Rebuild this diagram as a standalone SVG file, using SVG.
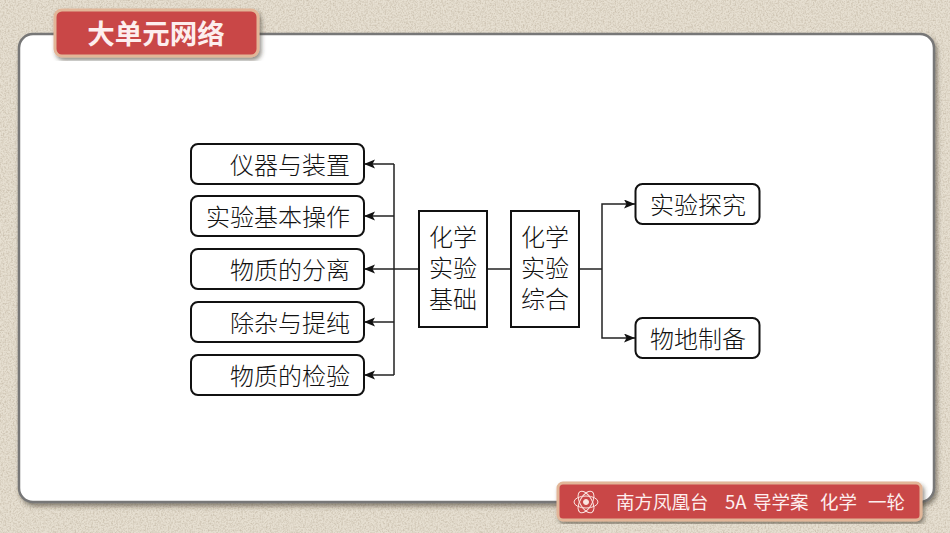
<svg xmlns="http://www.w3.org/2000/svg" width="950" height="533" viewBox="0 0 950 533">
<defs>
<filter id="grain" x="0" y="0" width="100%" height="100%"><feTurbulence type="fractalNoise" baseFrequency="0.6" numOctaves="3" seed="4"/><feColorMatrix values="0 0 0 0 0.5 0 0 0 0 0.43 0 0 0 0 0.33 1.3 0 0 0 -0.5"/></filter>
<filter id="sh" x="-5%" y="-5%" width="110%" height="115%"><feDropShadow dx="2" dy="3" stdDeviation="2" flood-color="#3a3428" flood-opacity="0.55"/></filter>
<marker id="ah" markerUnits="userSpaceOnUse" markerWidth="12" markerHeight="10" refX="11" refY="4.500" orient="auto"><path d="M0 0L11 4.500L0 9L2.500 4.500Z" fill="#111"/></marker>
<style>
.b{fill:#fff;stroke:#111;stroke-width:2}
.t{font-family:"Noto Sans CJK SC","Noto Sans",sans-serif;font-size:24px;font-weight:300;fill:#111}
.c{fill:none;stroke:#222;stroke-width:1.500}
.r{fill:#c94747;stroke:#e2b698;stroke-width:3}
.w{font-family:"Noto Sans CJK SC","Noto Sans",sans-serif;fill:#fdeeee}
.m{text-anchor:middle}.e{text-anchor:end}
</style>
</defs>
<rect width="950" height="533" fill="#e6dfd1"/>
<rect width="950" height="533" filter="url(#grain)"/>
<rect id="panel" x="19" y="34" width="915" height="468" rx="14" fill="#fff" stroke="#777" stroke-width="2.500" filter="url(#sh)"/>
<g id="connectors">
<path class="c" d="M419 269H364" marker-end="url(#ah)"/>
<path class="c" d="M394 164V375M394 164H364" marker-end="url(#ah)"/>
<path class="c" d="M394 216H364" marker-end="url(#ah)"/>
<path class="c" d="M394 322H364" marker-end="url(#ah)"/>
<path class="c" d="M394 375H364" marker-end="url(#ah)"/>
<path class="c" d="M487 269H511"/>
<path class="c" d="M579 269H602"/>
<path class="c" d="M602 269V204H635" marker-end="url(#ah)"/>
<path class="c" d="M602 269V338H635" marker-end="url(#ah)"/>
</g>
<g id="n1"><rect class="b" x="191" y="144" width="173" height="40" rx="7"/><text class="t e" x="350" y="174">仪器与装置</text></g>
<g id="n2"><rect class="b" x="191" y="196" width="173" height="40" rx="7"/><text class="t e" x="350" y="226">实验基本操作</text></g>
<g id="n3"><rect class="b" x="191" y="249" width="173" height="40" rx="7"/><text class="t e" x="350" y="279">物质的分离</text></g>
<g id="n4"><rect class="b" x="191" y="302" width="173" height="40" rx="7"/><text class="t e" x="350" y="332">除杂与提纯</text></g>
<g id="n5"><rect class="b" x="191" y="355" width="173" height="40" rx="7"/><text class="t e" x="350" y="385">物质的检验</text></g>
<g id="n6"><rect class="b" x="419" y="211" width="68" height="116"/><text class="t m" x="453" y="246">化学<tspan x="453" dy="31">实验</tspan><tspan x="453" dy="31">基础</tspan></text></g>
<g id="n7"><rect class="b" x="511" y="211" width="68" height="116"/><text class="t m" x="545" y="246">化学<tspan x="545" dy="31">实验</tspan><tspan x="545" dy="31">综合</tspan></text></g>
<g id="n8"><rect class="b" x="635.500" y="184" width="124" height="40" rx="7"/><text class="t m" x="698" y="214">实验探究</text></g>
<g id="n9"><rect class="b" x="635.500" y="318" width="124" height="40" rx="7"/><text class="t m" x="698" y="348">物地制备</text></g>
<g id="title"><rect class="r" x="55" y="10" width="203" height="46" rx="7" filter="url(#sh)"/><text class="w m" x="156" y="44" font-size="27.500" font-weight="700">大单元网络</text></g>
<g id="footer"><rect class="r" x="558" y="483" width="363" height="37" rx="5" filter="url(#sh)"/>
<g fill="none" stroke="#fbe4e0" stroke-width="1"><ellipse cx="586" cy="502" rx="12" ry="6"/><ellipse cx="586" cy="502" rx="12" ry="6" transform="rotate(60 586 502)"/><ellipse cx="586" cy="502" rx="12" ry="6" transform="rotate(120 586 502)"/><circle cx="586" cy="502" r="2.500" fill="#fbe4e0"/></g>
<text class="w" x="616" y="509" font-size="18.500">南方凤凰台</text><text class="w" x="725" y="509" font-size="18.500">5A<tspan x="753">导学案</tspan></text><text class="w" x="820" y="509" font-size="18.500">化学</text><text class="w" x="868" y="509" font-size="18.500">一轮</text></g>
</svg>
